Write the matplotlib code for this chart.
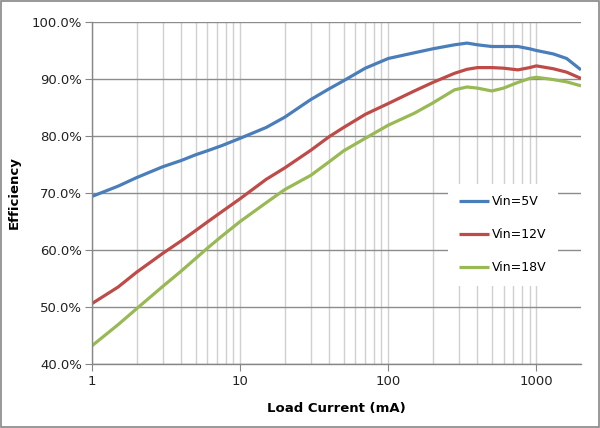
import matplotlib
matplotlib.use("Agg")
import matplotlib.pyplot as plt
from matplotlib.ticker import FixedLocator, FuncFormatter, NullFormatter
from matplotlib.patches import Rectangle

load_ma = [1, 1.5, 2, 3, 4, 5, 6, 7.5, 10, 15, 20, 30, 40, 50, 70, 100, 150, 200,
           280, 340, 400, 500, 600, 750, 900, 1000, 1300, 1600, 2000]
eff_5v = [69.4, 71.2, 72.7, 74.6, 75.7, 76.7, 77.4, 78.3, 79.6, 81.5, 83.3, 86.4, 88.3,
          89.7, 91.9, 93.6, 94.6, 95.3, 96.0, 96.3, 96.0, 95.7, 95.7, 95.7, 95.3, 95.0,
          94.4, 93.6, 91.6]
eff_12v = [50.6, 53.5, 56.1, 59.4, 61.6, 63.4, 64.9, 66.7, 69.0, 72.4, 74.4, 77.5, 79.9,
           81.5, 83.8, 85.7, 87.9, 89.4, 91.0, 91.7, 92.0, 92.0, 91.9, 91.6, 92.0, 92.3,
           91.8, 91.2, 90.1]
eff_18v = [43.2, 46.9, 49.7, 53.6, 56.3, 58.5, 60.3, 62.4, 65.0, 68.3, 70.6, 73.1, 75.5,
           77.4, 79.6, 81.9, 84.0, 85.8, 88.1, 88.6, 88.4, 87.9, 88.4, 89.4, 90.1, 90.3,
           89.9, 89.5, 88.8]
series_labels = ["Vin=5V", "Vin=12V", "Vin=18V"]
y_ticks = [40, 50, 60, 70, 80, 90, 100]
x_ticks = [1, 10, 100, 1000]

colors = ["#4a7ebb", "#be4b48", "#98b954"]

fig = plt.figure(figsize=(6.0, 4.28), dpi=100)
fig.patches.append(Rectangle((0.002, 0.003), 0.996, 0.994, transform=fig.transFigure,
                             fill=False, edgecolor="#868686", linewidth=1.2))
ax = fig.add_axes([92/600, (428-364)/428, (581-92)/600, (364-22)/428])

ax.set_xscale("log")
ax.set_xlim(1, 2000)
ax.set_ylim(40, 100)

minor = [m * 10**e for e in range(0, 4) for m in range(2, 10) if m * 10**e < 2000]
ax.xaxis.set_minor_locator(FixedLocator(minor))
ax.xaxis.set_major_locator(FixedLocator(x_ticks))
ax.xaxis.set_major_formatter(FuncFormatter(lambda v, p: f"{v:g}"))
ax.xaxis.set_minor_formatter(NullFormatter())
ax.yaxis.set_major_locator(FixedLocator(y_ticks))
ax.yaxis.set_major_formatter(FuncFormatter(lambda v, p: f"{v:.1f}%"))

ax.grid(True, axis="x", which="both", color="#d0d0d0", linewidth=1.0)
ax.grid(True, axis="y", which="major", color="#8c8c8c", linewidth=1.0)
ax.set_axisbelow(True)

for ys, c, lab in zip([eff_5v, eff_12v, eff_18v], colors, series_labels):
    ax.plot(load_ma, ys, color=c, linewidth=2.3, label=lab, solid_capstyle="butt",
            solid_joinstyle="round")

for s in ["top", "right"]:
    ax.spines[s].set_visible(False)
for s in ["left", "bottom"]:
    ax.spines[s].set_color("#868686")
    ax.spines[s].set_linewidth(1.0)

ax.tick_params(axis="x", which="major", direction="out", length=5, color="#868686",
               labelsize=9.5, labelcolor="#222222", pad=3)
ax.tick_params(axis="x", which="minor", length=0)
ax.tick_params(axis="y", which="major", direction="out", length=5, color="#868686",
               labelsize=9.5, labelcolor="#222222", pad=2)

ax.set_xlabel("Load Current (mA)", fontsize=9.5, fontweight="bold", labelpad=10)
ax.set_ylabel("Efficiency", fontsize=9.5, fontweight="bold", labelpad=8)

leg = ax.legend(loc="upper left", bbox_to_anchor=((448-92)/489, (364-184)/342),
                frameon=True, fancybox=False, edgecolor="white", facecolor="white",
                framealpha=1.0, fontsize=9, handlelength=2.4, handletextpad=0.2,
                labelspacing=1.6, borderpad=0.9, borderaxespad=0)
leg.get_frame().set_linewidth(0)

fig.savefig("out.png", dpi=100)
